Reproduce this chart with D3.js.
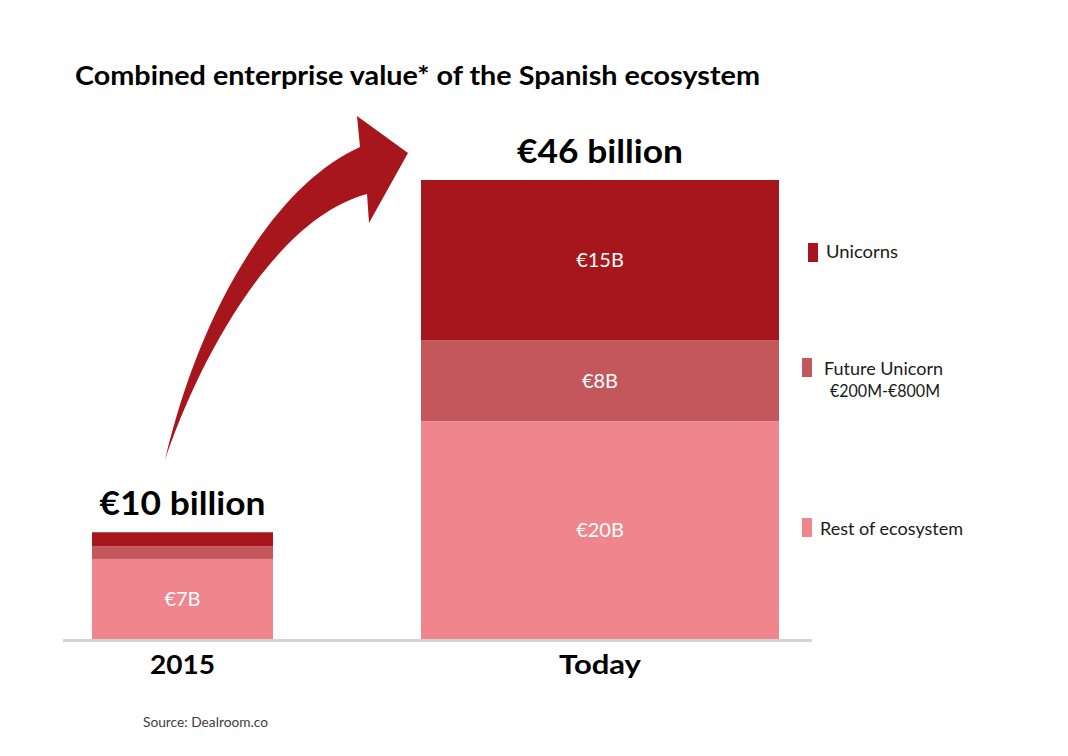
<!DOCTYPE html>
<html>
<head>
<meta charset="utf-8">
<script src="https://cdn.jsdelivr.net/npm/d3@7"></script>
<style>
  html, body { margin: 0; padding: 0; background: #fff; }
  svg { display: block; font-family: Lato, "Open Sans", sans-serif; }
</style>
</head>
<body>
<svg id="chart" width="1068" height="756"></svg>
<script>
// ---- data ----
const categories = ["2015", "Today"];
const seriesKeys = ["rest", "future", "unicorns"];
const rest = [7.5, 20.4];
const future = [1.2, 7.6];
const unicorns = [1.3, 15];
const restLabels = ["€7B", "€20B"];
const futureLabels = ["", "€8B"];
const unicornLabels = ["", "€15B"];
const totalLabels = ["€10 billion", "€46 billion"];
const legendNames = [["Unicorns"], ["Future Unicorn", "€200M-€800M"], ["Rest of ecosystem"]];
const titleText = "Combined enterprise value* of the Spanish ecosystem";
const sourceText = "Source: Dealroom.co";

// ---- style / layout ----
const colors = { unicorns: "#A8161D", future: "#C3575C", rest: "#F0868D" };
const barWidths = [181, 358];

const svg = d3.select("#chart");

function fit(sel, w) {
  const n = sel.node();
  const cur = n.getComputedTextLength();
  if (Math.abs(cur - w) > 2) sel.attr("textLength", w).attr("lengthAdjust", "spacingAndGlyphs");
}

const rows = categories.map((c, i) => ({ cat: c, rest: rest[i], future: future[i], unicorns: unicorns[i], i }));
const stack = d3.stack().keys(seriesKeys)(rows);

const x = d3.scalePoint().domain(categories).range([182.5, 600]);
const y = d3.scaleLinear().domain([0, 43]).range([639, 180]);

// bars
const layers = svg.append("g").selectAll("g").data(stack).join("g")
  .attr("fill", d => colors[d.key]);
layers.selectAll("rect").data(d => d).join("rect")
  .attr("x", d => x(d.data.cat) - barWidths[d.data.i] / 2)
  .attr("width", d => barWidths[d.data.i])
  .attr("y", d => y(d[1]))
  .attr("height", d => y(d[0]) - y(d[1]));

// baseline
svg.append("line").attr("x1", 63).attr("x2", 812).attr("y1", y(0) + 1.5).attr("y2", y(0) + 1.5)
  .attr("stroke", "#d4d4d4").attr("stroke-width", 3);

// segment labels
const segLabels = { rest: restLabels, future: futureLabels, unicorns: unicornLabels };
stack.forEach(layer => {
  layer.forEach((d, i) => {
    const t = segLabels[layer.key][i];
    if (!t) return;
    svg.append("text")
      .attr("x", x(d.data.cat))
      .attr("y", (y(d[0]) + y(d[1])) / 2 + 7)
      .attr("text-anchor", "middle")
      .attr("fill", "#fff")
      .attr("font-size", 20)
      .text(t);
  });
});

// totals
categories.forEach((c, i) => {
  const top = y(stack[stack.length - 1][i][1]);
  const t = svg.append("text")
    .attr("x", x(c)).attr("y", top - 17)
    .attr("text-anchor", "middle").attr("font-weight", 700).attr("font-size", 33)
    .attr("fill", "#000").text(totalLabels[i]);
  fit(t, 166);
});

// category labels
const catWidths = [65, 82];
categories.forEach((c, i) => {
  const t = svg.append("text")
    .attr("x", x(c)).attr("y", 674)
    .attr("text-anchor", "middle").attr("font-weight", 700).attr("font-size", 26)
    .attr("fill", "#000").text(c);
  fit(t, catWidths[i]);
});

// title
const title = svg.append("text").attr("x", 75).attr("y", 85)
  .attr("font-weight", 700).attr("font-size", 26).attr("fill", "#000").text(titleText);
fit(title, 685);

// source
const src = svg.append("text").attr("x", 143).attr("y", 727).attr("font-size", 13.5).attr("fill", "#404040").text(sourceText);
fit(src, 125);

// legend
const legendItems = [
  { key: "unicorns", sw: [808, 243, 10, 19], tx: 826, ty: 258, w: [72] },
  { key: "future", sw: [802, 358, 10, 19], tx: 824, ty: 375, w: [119, 110] },
  { key: "rest", sw: [802, 518, 10, 19], tx: 820, ty: 535, w: [143] }
];
legendItems.forEach((it, k) => {
  svg.append("rect").attr("x", it.sw[0]).attr("y", it.sw[1]).attr("width", it.sw[2]).attr("height", it.sw[3])
    .attr("fill", colors[it.key]);
  legendNames[k].forEach((line, j) => {
    const t = svg.append("text").attr("x", j === 0 ? it.tx : it.tx + 6).attr("y", it.ty + j * 22)
      .attr("font-size", 17.5).attr("fill", "#1a1a1a").text(line);
    fit(t, it.w[j]);
  });
});

// growth arrow annotation
const arrow = d3.path();
arrow.moveTo(165, 460);
arrow.bezierCurveTo(200, 310, 275, 185, 360, 147);
arrow.lineTo(357, 116);
arrow.lineTo(408, 153);
arrow.lineTo(369, 223);
arrow.lineTo(367, 194);
arrow.bezierCurveTo(270, 220, 195, 370, 165, 460);
arrow.closePath();
svg.append("path").attr("d", arrow.toString()).attr("fill", colors.unicorns);
</script>
</body>
</html>
